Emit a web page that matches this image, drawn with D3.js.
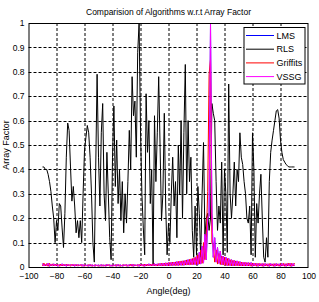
<!DOCTYPE html>
<html>
<head>
<meta charset="utf-8">
<script src="https://cdn.jsdelivr.net/npm/d3@7"></script>
<style>
  body { margin: 0; background: #fff; }
  svg { display: block; font-family: "Liberation Sans", Arial, sans-serif; }
  .grid line { stroke: #000; stroke-dasharray: 3,2; stroke-width: 1; }
  .tick text { font-size: 8.5px; fill: #000; }
</style>
</head>
<body>
<div id="chart"></div>
<script>
const W = 319, H = 302;
const margin = {top: 23, right: 10.5, bottom: 35, left: 28.5};

// angles in degrees, one per sample
const angles = d3.range(-90, 91, 1);

const xTicks = [-100, -80, -60, -40, -20, 0, 20, 40, 60, 80, 100];
const yTicks = [0, 0.1, 0.2, 0.3, 0.4, 0.5, 0.6, 0.7, 0.8, 0.9, 1];
const seriesNames = ["LMS", "RLS", "Griffits", "VSSG"];

const rlsValues = [
  0.41,0.41,0.40,0.40,0.38,0.35,0.31,0.25,0.20,0.10,0.19,0.15,0.26,0.25,0.16,0.08,0.22,0.45,0.59,0.56,
  0.41,0.27,0.33,0.25,0.14,0.19,0.12,0.19,0.10,0.30,
  0.48,0.53,0.58,0.55,0.45,0.30,0.10,0.02,0.40,0.79,
  0.45,0.25,0.55,0.67,0.30,0.19,0.47,0.30,0.12,0.03,
  0.45,0.66,0.33,0.52,0.26,0.40,0.19,0.35,0.14,0.30,
  0.18,0.35,0.56,0.40,0.78,0.62,0.68,0.45,0.88,1.00,
  0.56,0.30,0.16,0.05,0.71,0.47,0.60,0.26,0.40,0.01,
  0.62,0.35,0.55,0.78,0.49,0.19,0.30,0.63,0.25,0.05,
  0.18,0.10,0.30,0.45,0.25,0.35,0.12,0.50,0.30,0.60,
  0.20,0.55,0.83,0.30,0.60,0.35,0.45,0.15,0.04,0.25,
  0.05,0.33,0.22,0.04,0.30,0.51,0.13,0.20,0.22,0.15,
  0.20,0.67,0.63,0.60,0.35,0.15,0.25,0.18,0.43,0.05,
  0.40,0.30,0.06,0.75,0.30,0.20,0.30,0.43,0.25,0.40,
  0.35,0.55,0.45,0.42,0.35,0.30,0.20,0.18,0.25,0.05,
  0.55,0.40,0.04,0.26,0.18,0.30,0.38,0.20,0.04,0.02,
  0.12,0.04,0.35,0.47,0.52,0.56,0.60,0.64,0.645,0.61,
  0.52,0.47,0.44,0.43,0.42,0.415,0.41,0.41,0.41,0.41,0.41
];

const griffitsValues = [
  0.004,0.016,0.005,0.014,0.003,0.015,0.004,0.013,0.005,0.012,
  0.004,0.011,0.003,0.012,0.004,0.010,0.005,0.011,0.004,0.010,
  0.003,0.011,0.004,0.010,0.005,0.009,0.004,0.010,0.003,0.009,
  0.004,0.009,0.003,0.010,0.004,0.008,0.003,0.009,0.004,0.008,
  0.003,0.009,0.004,0.008,0.003,0.009,0.004,0.010,0.003,0.008,
  0.004,0.009,0.003,0.010,0.004,0.008,0.003,0.009,0.004,0.010,
  0.003,0.009,0.004,0.011,0.003,0.010,0.004,0.009,0.003,0.011,
  0.004,0.011,0.003,0.012,0.004,0.011,0.005,0.012,0.004,0.013,
  0.005,0.012,0.004,0.014,0.005,0.015,0.004,0.016,0.005,0.017,
  0.005,0.019,0.006,0.020,0.006,0.021,0.006,0.023,0.007,0.025,
  0.007,0.026,0.008,0.029,0.008,0.031,0.009,0.035,0.010,0.040,
  0.010,0.050,0.012,0.070,0.015,0.100,0.030,0.120,0.310,0.790,0.850,
  0.100,0.090,0.020,0.070,0.012,0.055,0.010,0.045,0.008,0.040,
  0.006,0.035,0.006,0.030,0.005,0.027,0.005,0.025,0.005,0.022,
  0.004,0.020,0.004,0.019,0.004,0.018,0.004,0.017,0.003,0.016,
  0.004,0.015,0.003,0.015,0.004,0.014,0.003,0.014,0.004,0.013,
  0.003,0.014,0.004,0.013,0.003,0.014,0.004,0.013,0.003,0.014,
  0.004,0.015,0.003,0.014,0.004,0.016,0.003,0.015,0.004,0.016
];

const vssgValues = [
  0.014,0.004,0.012,0.005,0.015,0.003,0.011,0.006,0.013,0.004,
  0.012,0.003,0.010,0.005,0.013,0.004,0.011,0.003,0.012,0.005,
  0.010,0.004,0.012,0.003,0.011,0.005,0.010,0.004,0.012,0.003,
  0.010,0.004,0.009,0.003,0.011,0.004,0.009,0.003,0.010,0.004,
  0.009,0.003,0.010,0.004,0.009,0.003,0.011,0.004,0.010,0.003,
  0.009,0.004,0.010,0.003,0.011,0.004,0.009,0.003,0.010,0.004,
  0.011,0.003,0.010,0.004,0.012,0.003,0.010,0.004,0.011,0.003,
  0.012,0.004,0.011,0.003,0.012,0.005,0.013,0.004,0.012,0.005,
  0.014,0.004,0.013,0.005,0.015,0.004,0.016,0.005,0.017,0.005,
  0.018,0.005,0.019,0.006,0.020,0.006,0.022,0.006,0.024,0.007,
  0.025,0.007,0.027,0.008,0.030,0.008,0.033,0.009,0.037,0.010,
  0.045,0.010,0.060,0.012,0.085,0.016,0.135,0.030,0.200,0.210,1.000,
  0.220,0.040,0.120,0.020,0.080,0.015,0.065,0.010,0.045,0.008,
  0.040,0.006,0.035,0.006,0.030,0.005,0.028,0.005,0.025,0.005,
  0.022,0.004,0.020,0.004,0.020,0.004,0.018,0.004,0.018,0.003,
  0.016,0.004,0.015,0.003,0.015,0.004,0.014,0.003,0.014,0.004,
  0.013,0.003,0.014,0.004,0.013,0.003,0.014,0.004,0.013,0.003,
  0.014,0.004,0.013,0.003,0.014,0.004,0.015,0.003,0.014,0.004
];

// the blue LMS trace lies completely under the VSSG trace in the picture
const lmsValues = vssgValues.slice();

const colors = ["#0000ff", "#000000", "#ff0000", "#ff00ff"];

const plotW = W - margin.left - margin.right,
    plotH = H - margin.top - margin.bottom;

const x = d3.scaleLinear().domain([-100, 100]).range([0, plotW]);
const y = d3.scaleLinear().domain([0, 1]).range([plotH, 0]);

const svg = d3.select("#chart").append("svg")
    .attr("width", W)
    .attr("height", H);

const g = svg.append("g")
    .attr("transform", "translate(" + margin.left + "," + margin.top + ")");

g.append("rect")
    .attr("width", plotW).attr("height", plotH)
    .attr("fill", "#fff");

// dashed grid
const grid = g.append("g").attr("class", "grid");
grid.selectAll(".gx")
    .data(xTicks.slice(1, -1))
    .enter().append("line")
    .attr("x1", d => Math.round(x(d)) + 0.5).attr("x2", d => Math.round(x(d)) + 0.5)
    .attr("y1", 0).attr("y2", plotH);
grid.selectAll(".gy")
    .data(yTicks.slice(1, -1))
    .enter().append("line")
    .attr("y1", d => Math.round(y(d)) + 0.5).attr("y2", d => Math.round(y(d)) + 0.5)
    .attr("x1", 0).attr("x2", plotW);

const xAxis = d3.axisBottom(x).tickValues(xTicks).tickSize(0).tickPadding(6)
    .tickFormat(d3.format("d"));
const yAxis = d3.axisLeft(y).tickValues(yTicks).tickSize(0).tickPadding(4)
    .tickFormat(d => d === 0 || d === 1 ? d : d3.format(".1f")(d));

g.append("g")
    .attr("transform", "translate(0," + plotH + ")")
    .call(xAxis)
    .call(s => s.select(".domain").remove());

g.append("g")
    .call(yAxis)
    .call(s => s.select(".domain").remove());

const line = d3.line()
    .x((d, i) => x(angles[i]))
    .y(d => y(d));

const allSeries = [lmsValues, rlsValues, griffitsValues, vssgValues];

g.selectAll(".trace")
    .data(allSeries)
    .enter().append("path")
    .attr("class", "trace")
    .attr("d", d => line(d))
    .attr("fill", "none")
    .attr("stroke", (d, i) => colors[i])
    .attr("stroke-width", 1);

// axes box
g.append("rect")
    .attr("x", 0.5).attr("y", 0.5)
    .attr("width", plotW - 1).attr("height", plotH)
    .attr("fill", "none")
    .attr("stroke", "#000");

// legend, top right corner inside the axes
const legendW = 61, legendH = 56.5;
const legend = g.append("g")
    .attr("transform", "translate(" + (plotW - legendW - 3.5) + "," + 4.5 + ")");

legend.append("rect")
    .attr("width", legendW).attr("height", legendH)
    .attr("fill", "#fff").attr("stroke", "#000");

const rows = legend.selectAll(".row")
    .data(seriesNames)
    .enter().append("g")
    .attr("transform", (d, i) => "translate(0," + (8 + i * 13.7) + ")");

rows.append("line")
    .attr("x1", 2).attr("x2", 30)
    .attr("stroke", (d, i) => colors[i])
    .attr("stroke-width", 1);

rows.append("text")
    .attr("x", 32.5).attr("dy", "0.35em")
    .style("font-size", "9px")
    .text(d => d);

// title and axis labels
svg.append("text")
    .attr("x", margin.left + plotW / 2).attr("y", 15)
    .attr("text-anchor", "middle")
    .attr("textLength", 165).attr("lengthAdjust", "spacingAndGlyphs")
    .style("font-size", "9px")
    .text("Comparision of Algorithms w.r.t Array Factor");

svg.append("text")
    .attr("x", margin.left + plotW / 2).attr("y", 294)
    .attr("text-anchor", "middle")
    .style("font-size", "9px")
    .text("Angle(deg)");

svg.append("text")
    .attr("transform", "translate(9," + (margin.top + plotH / 2) + ") rotate(-90)")
    .attr("text-anchor", "middle")
    .style("font-size", "9px")
    .text("Array Factor");
</script>
</body>
</html>
